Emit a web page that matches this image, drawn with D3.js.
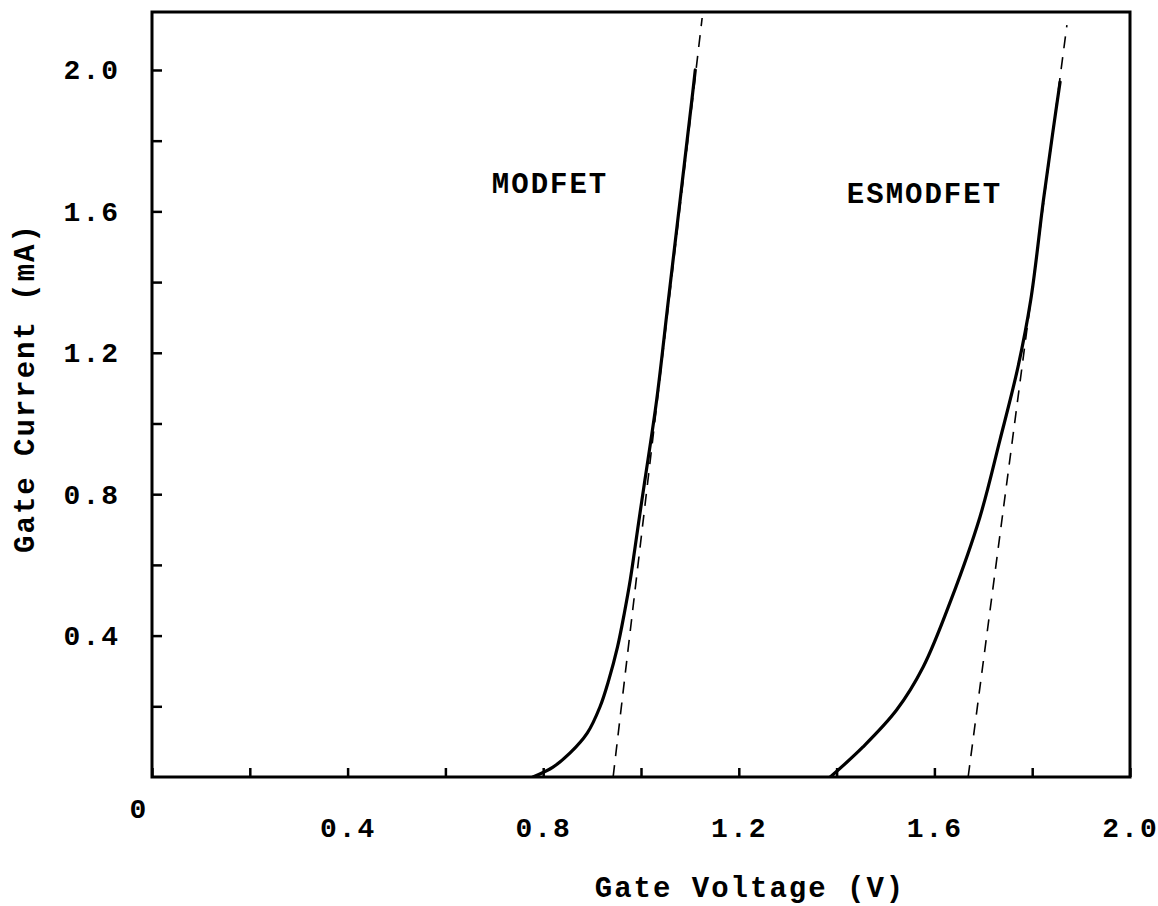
<!DOCTYPE html>
<html lang="en">
<head>
  <meta charset="UTF-8">
  <title>Gate Current vs Gate Voltage</title>
  <script src="https://cdn.jsdelivr.net/npm/d3@7/dist/d3.min.js"></script>
  <style>
    body { margin: 0; background: #fff; }
    svg text {
      font-family: "Liberation Mono", "Courier New", monospace;
      font-weight: bold;
      fill: #000;
    }
  </style>
</head>
<body>
  <svg id="chart" width="1158" height="906"></svg>
  <script>
    // measured curves (V, mA)
    const modfetV = [0.779, 0.820, 0.855, 0.890, 0.916, 0.934, 0.952, 0.966, 0.978, 0.988, 0.998, 1.008, 1.032, 1.056, 1.080, 1.104, 1.111];
    const modfetI = [0, 0.028, 0.068, 0.124, 0.198, 0.274, 0.368, 0.464, 0.557, 0.651, 0.747, 0.840, 1.066, 1.349, 1.632, 1.915, 2.0];
    const esmodfetV = [1.387, 1.454, 1.523, 1.577, 1.634, 1.693, 1.734, 1.771, 1.797, 1.823, 1.842, 1.857];
    const esmodfetI = [0, 0.085, 0.190, 0.311, 0.501, 0.735, 0.953, 1.160, 1.349, 1.632, 1.822, 1.966];

    // extrapolated straight lines (dashed)
    const modfetFitV = [0.943, 1.125];
    const modfetFitI = [0, 2.147];
    const esmodfetFitV = [1.669, 1.871];
    const esmodfetFitI = [0, 2.127];

    const xTicks = [0, 0.2, 0.4, 0.6, 0.8, 1.0, 1.2, 1.4, 1.6, 1.8, 2.0];
    const xTickLabels = ['', '', '0.4', '', '0.8', '', '1.2', '', '1.6', '', '2.0'];
    const yTicks = [0.2, 0.4, 0.6, 0.8, 1.0, 1.2, 1.4, 1.6, 1.8, 2.0];
    const yTickLabels = ['', '0.4', '', '0.8', '', '1.2', '', '1.6', '', '2.0'];

    const labelText = ['MODFET', 'ESMODFET'];
    const labelV = [0.695, 1.421];
    const labelI = [1.68, 1.652];

    const svg = d3.select('#chart');
    const plotLeft = 152, plotRight = 1130, plotTop = 12, plotBottom = 777;

    const x = d3.scaleLinear().domain([0, 2.0]).range([plotLeft, plotRight]);
    const y = d3.scaleLinear().domain([0, 2.164]).range([plotBottom, plotTop]);

    // frame
    svg.append('rect')
      .attr('x', plotLeft).attr('y', plotTop)
      .attr('width', plotRight - plotLeft).attr('height', plotBottom - plotTop)
      .attr('fill', 'none').attr('stroke', '#000').attr('stroke-width', 3);

    const xAxis = d3.axisBottom(x)
      .tickValues(xTicks)
      .tickSizeInner(-9).tickSizeOuter(0)
      .tickPadding(40)
      .tickFormat((d, i) => xTickLabels[i]);

    svg.append('g')
      .attr('transform', `translate(0, ${plotBottom})`)
      .call(xAxis)
      .call(g => g.select('.domain').remove())
      .call(g => g.selectAll('line').attr('stroke-width', 2.5))
      .call(g => g.selectAll('text').attr('font-size', 28).attr('letter-spacing', 2));

    const yAxis = d3.axisLeft(y)
      .tickValues(yTicks)
      .tickSizeInner(-10).tickSizeOuter(0)
      .tickPadding(32)
      .tickFormat((d, i) => yTickLabels[i]);

    svg.append('g')
      .attr('transform', `translate(${plotLeft}, 0)`)
      .call(yAxis)
      .call(g => g.select('.domain').remove())
      .call(g => g.selectAll('line').attr('stroke-width', 2.5))
      .call(g => g.selectAll('text').attr('font-size', 28).attr('letter-spacing', 2));

    // origin label
    svg.append('text')
      .attr('x', x(0) - 14).attr('y', y(0) + 41)
      .attr('text-anchor', 'middle')
      .attr('font-size', 28)
      .text('0');

    // axis titles
    svg.append('text')
      .attr('x', 750).attr('y', 897)
      .attr('text-anchor', 'middle')
      .attr('font-size', 29).attr('letter-spacing', 2)
      .text('Gate Voltage (V)');

    svg.append('text')
      .attr('transform', 'translate(34, 388) rotate(-90)')
      .attr('text-anchor', 'middle')
      .attr('font-size', 29).attr('letter-spacing', 2)
      .text('Gate Current (mA)');

    svg.append('clipPath').attr('id', 'clip')
      .append('rect')
        .attr('x', plotLeft).attr('y', plotTop + 2)
        .attr('width', plotRight - plotLeft).attr('height', plotBottom - plotTop - 2);
    const plot = svg.append('g').attr('clip-path', 'url(#clip)');

    const line = d3.line()
      .x(d => x(d[0]))
      .y(d => y(d[1]));

    // dashed extrapolations
    [[modfetFitV, modfetFitI], [esmodfetFitV, esmodfetFitI]].forEach(([vs, is]) => {
      plot.append('path')
        .attr('d', line(vs.map((v, i) => [v, is[i]])))
        .attr('fill', 'none')
        .attr('stroke', '#000')
        .attr('stroke-width', 1.6)
        .attr('stroke-dasharray', '12 9');
    });

    // measured curves
    const curve = d3.line()
      .x(d => x(d[0]))
      .y(d => y(d[1]))
      .curve(d3.curveCatmullRom);

    [[modfetV, modfetI], [esmodfetV, esmodfetI]].forEach(([vs, is]) => {
      plot.append('path')
        .attr('d', curve(vs.map((v, i) => [v, is[i]])))
        .attr('fill', 'none')
        .attr('stroke', '#000')
        .attr('stroke-width', 3.2)
        .attr('stroke-linecap', 'round');
    });

    // curve labels
    svg.selectAll('.curve-label').data(labelText)
      .enter().append('text')
        .attr('class', 'curve-label')
        .attr('x', (d, i) => x(labelV[i]))
        .attr('y', (d, i) => y(labelI[i]))
        .attr('dy', '0.35em')
        .attr('font-size', 29)
        .attr('letter-spacing', 2)
        .text(d => d);
  </script>
</body>
</html>
